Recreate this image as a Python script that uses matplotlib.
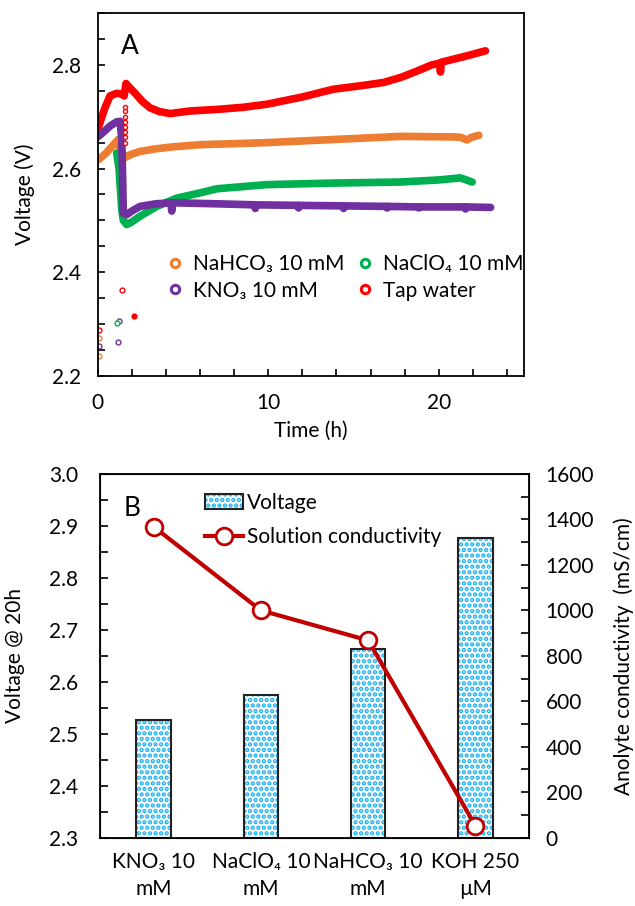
import numpy as np
import matplotlib
matplotlib.use("Agg")
from matplotlib import pyplot as plt
from matplotlib.lines import Line2D
from matplotlib.patches import Patch
from matplotlib.legend_handler import HandlerTuple
from matplotlib.ticker import MultipleLocator

plt.rcParams['font.family'] = ['Lato', 'DejaVu Sans']
plt.rcParams['font.size'] = 15
plt.rcParams['hatch.linewidth'] = 2.2

# --- panel A: voltage vs time ---
red_t = [0.04, 0.4, 0.72, 1.1, 1.41, 1.55, 1.66, 1.9, 2.2, 2.6, 3.07, 3.6, 4.25, 5.42, 7.0, 8.5, 9.92,
         12.0, 13.83, 15.5, 16.77, 17.8, 18.73, 19.6, 20.05, 20.1, 20.15, 21.5, 22.74]
red_v = [2.679, 2.715, 2.740, 2.745, 2.744, 2.740, 2.764, 2.755, 2.745, 2.730, 2.717, 2.710, 2.706, 2.711,
         2.714, 2.718, 2.724, 2.738, 2.753, 2.760, 2.766, 2.776, 2.788, 2.800, 2.803, 2.786, 2.805, 2.816, 2.827]

orange_t = [0.04, 0.5, 0.9, 1.21, 1.3, 1.6, 2.0, 2.48, 3.4, 4.44, 6.0, 8.0, 9.92, 13.83, 17.75, 20.88,
            21.3, 21.66, 21.9, 22.35]
orange_v = [2.617, 2.630, 2.645, 2.656, 2.640, 2.621, 2.628, 2.633, 2.638, 2.642, 2.646, 2.648, 2.650,
            2.656, 2.662, 2.661, 2.660, 2.655, 2.660, 2.664]

green_t = [1.11, 1.25, 1.35, 1.41, 1.5, 1.70, 2.0, 2.48, 3.46, 4.64, 6.0, 6.99, 9.92, 13.83, 17.75,
           20.0, 21.27, 21.96]
green_v = [2.630, 2.600, 2.550, 2.521, 2.500, 2.492, 2.497, 2.508, 2.527, 2.543, 2.553, 2.561, 2.569,
           2.572, 2.574, 2.578, 2.582, 2.574]

purple_t = [0.04, 0.4, 0.72, 1.1, 1.31, 1.4, 1.45, 1.5, 1.70, 2.0, 2.48, 3.4, 4.3, 4.34, 4.38, 6.99,
            9.22, 9.24, 9.26, 11.76, 11.78, 11.80, 14.40, 14.42, 14.44, 16.95, 16.97, 16.99,
            18.81, 18.83, 18.85, 21.55, 21.57, 21.59, 23.04]
purple_v = [2.662, 2.672, 2.682, 2.690, 2.691, 2.660, 2.600, 2.514, 2.511, 2.518, 2.527, 2.532, 2.534,
            2.518, 2.534, 2.532, 2.530, 2.523, 2.530, 2.529, 2.524, 2.529, 2.528, 2.523, 2.528,
            2.527, 2.524, 2.527, 2.526, 2.524, 2.526, 2.526, 2.522, 2.526, 2.525]

# stray early points and the open-circle jump of tap water
orange_pts_t = [0.1, 0.1]
orange_pts_v = [2.239, 2.273]
purple_pts_t = [0.1, 1.17, 1.25]
purple_pts_v = [2.257, 2.265, 2.306]
green_pts_t = [1.12]
green_pts_v = [2.302]
red_pts_t = [0.1, 1.4]
red_pts_v = [2.289, 2.366]
red_dot_t = [2.1]
red_dot_v = [2.316]
red_jump_t = [1.6, 1.6, 1.6, 1.6, 1.6, 1.6, 1.6, 1.6]
red_jump_v = [2.650, 2.660, 2.670, 2.680, 2.690, 2.700, 2.710, 2.718]

# --- panel B ---
salts = ['KNO\u2083 10\nmM', 'NaClO\u2084 10\nmM', 'NaHCO\u2083 10\nmM', 'KOH 250\n\u00b5M']
voltage_20h = [2.527, 2.575, 2.663, 2.876]
conductivity = [1368, 1000, 868, 53]

c_orange = '#ED7D31'
c_green = '#00B050'
c_purple = '#7030A0'
c_red = '#FF0000'
c_dark = '#C00000'
c_dots = '#19AFEF'

fig = plt.figure(figsize=(6.35, 9.06), dpi=100)

# panel A
ax1 = fig.add_axes([0.1539, 0.585, 0.6713, 0.4007])
lw = 5.5
for tt, vv, cc in [(red_t, red_v, c_red), (orange_t, orange_v, c_orange),
                   (green_t, green_v, c_green), (purple_t, purple_v, c_purple)]:
    ax1.plot(tt, vv, color=cc, lw=lw, solid_capstyle='round', solid_joinstyle='round')
ax1.plot(red_jump_t, red_jump_v, ls='none', marker='o', ms=3, mfc='white', mec=c_red, mew=1)
for tt, vv, cc in [(orange_pts_t, orange_pts_v, c_orange), (purple_pts_t, purple_pts_v, c_purple),
                   (green_pts_t, green_pts_v, c_green), (red_pts_t, red_pts_v, c_red)]:
    ax1.plot(tt, vv, ls='none', marker='o', ms=3.5, mfc='white', mec=cc, mew=1)
ax1.plot(red_dot_t, red_dot_v, ls='none', marker='o', ms=3.5, color=c_red)

ax1.set_xlim(0, 25)
ax1.set_ylim(2.2, 2.9)
ax1.xaxis.set_major_locator(MultipleLocator(10))
ax1.xaxis.set_minor_locator(MultipleLocator(2))
ax1.set_yticks([2.2, 2.4, 2.6, 2.8])
ax1.yaxis.set_minor_locator(MultipleLocator(0.05))
ax1.tick_params(which='both', direction='in', length=5, width=1.2)
ax1.tick_params(axis='y', which='both', pad=12)
ax1.tick_params(axis='x', which='both', pad=12)
ax1.set_xlabel('Time (h)', labelpad=6)
ax1.set_ylabel('Voltage (V)', labelpad=12)
for s in ax1.spines.values():
    s.set_linewidth(1.3)
ax1.text(0.076, 0.907, 'A', transform=ax1.transAxes, fontsize=19, ha='center', va='center')

leg_handles = [
    Line2D([], [], ls='none', marker='o', ms=6, mfc='white', mec=c_orange, mew=2.2, label='NaHCO\u2083 10 mM'),
    Line2D([], [], ls='none', marker='o', ms=6, mfc='white', mec=c_purple, mew=2.2, label='KNO\u2083 10 mM'),
    Line2D([], [], ls='none', marker='o', ms=6, mfc='white', mec=c_green, mew=2.2, label='NaClO\u2084 10 mM'),
    Line2D([], [], ls='none', marker='o', ms=6, mfc='white', mec=c_red, mew=2.2, label='Tap water'),
]
ax1.legend(handles=leg_handles, ncol=2, loc='center', bbox_to_anchor=(0.58, 0.271), frameon=False,
           handlelength=0.8, handletextpad=0.45, columnspacing=0.6, labelspacing=0.3, fontsize=15)

# panel B
ax2 = fig.add_axes([0.1575, 0.0754, 0.6756, 0.4014])
x = np.arange(len(salts))
ax2.bar(x, [v - 2.3 for v in voltage_20h], bottom=2.3, width=0.32, color='white', edgecolor=c_dots,
        hatch='...', linewidth=0)
ax2.bar(x, [v - 2.3 for v in voltage_20h], bottom=2.3, width=0.32, fill=False, edgecolor='#222222',
        linewidth=1.5)
ax2.set_xlim(-0.5, 3.5)
ax2.set_ylim(2.3, 3.0)
ax2.set_yticks(np.arange(2.3, 3.01, 0.1))
ax2.set_yticklabels(['%.1f' % v for v in np.arange(2.3, 3.01, 0.1)])
ax2.yaxis.set_minor_locator(MultipleLocator(0.05))
ax2.set_xticks(x)
ax2.set_xticklabels(salts, linespacing=1.45)
ax2.tick_params(axis='x', length=0, pad=10)
ax2.tick_params(axis='y', which='both', direction='in', length=6, width=1.2, pad=16)
ax2.set_ylabel('Voltage @ 20h', labelpad=17)
for s in ax2.spines.values():
    s.set_linewidth(1.3)
ax2.text(0.074, 0.904, 'B', transform=ax2.transAxes, fontsize=19, ha='center', va='center')

ax3 = ax2.twinx()
ax3.plot(x, conductivity, color=c_dark, lw=3, marker='o', ms=12, mfc='white', mec=c_dark, mew=2)
ax3.set_ylim(0, 1600)
ax3.yaxis.set_major_locator(MultipleLocator(200))
ax3.yaxis.set_minor_locator(MultipleLocator(100))
ax3.tick_params(axis='y', which='both', direction='in', length=6, width=1.2, pad=12)
ax3.set_ylabel('Anolyte conductivity  (mS/cm)', labelpad=14)

volt_patch = (Patch(facecolor='white', edgecolor=c_dots, hatch='...', linewidth=0),
              Patch(fill=False, edgecolor='#222222', linewidth=1.5))
cond_line = Line2D([], [], color=c_dark, lw=3, marker='o', ms=12, mfc='white', mec=c_dark, mew=2)
ax3.legend([volt_patch, cond_line], ['Voltage', 'Solution conductivity'],
           handler_map={tuple: HandlerTuple(ndivide=1)},
           loc='center', bbox_to_anchor=(0.52, 0.874), frameon=False,
           handlelength=1.8, handletextpad=0.2, labelspacing=0.7, fontsize=15)

fig.savefig('out.png', dpi=100)
